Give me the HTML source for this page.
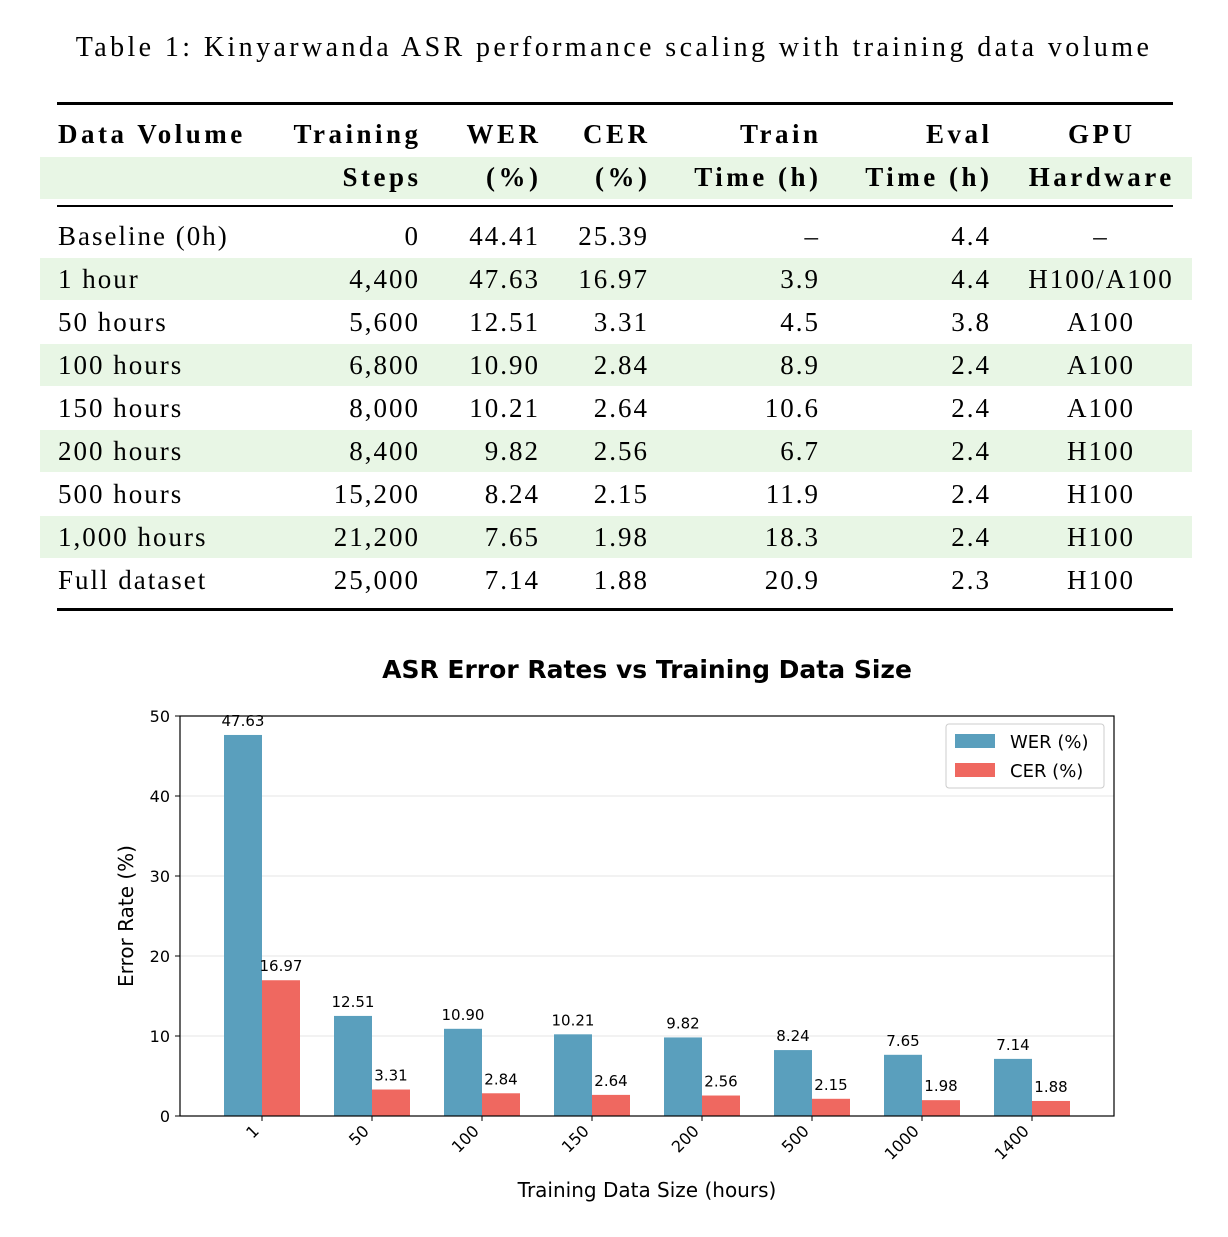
<!DOCTYPE html>
<html><head><meta charset="utf-8"><style>
body{margin:0;background:#fff;width:1228px;height:1237px;position:relative;overflow:hidden}
.t{position:absolute;font-family:"Liberation Serif",serif;font-size:27px;color:#000;white-space:nowrap;line-height:1;letter-spacing:2px}
.b{font-weight:bold;letter-spacing:3.5px}
.band{position:absolute;left:40px;width:1152px;height:42px;background:#e8f6e5}
.rule{position:absolute;left:57px;width:1116px;background:#000}
</style></head><body>
<div class="t" style="left:0;width:1228px;text-align:center;top:34px;font-size:28px;letter-spacing:3.4px">Table 1: Kinyarwanda ASR performance scaling with training data volume</div>
<div id="tbl"></div>
<svg id="chart" width="1228" height="1237" style="position:absolute;left:0;top:0" font-family="DejaVu Sans, sans-serif"></svg>
<script>
const tbl=document.getElementById('tbl');
function add(html){tbl.insertAdjacentHTML('beforeend',html);}
add('<div class="rule" style="top:102px;height:3px"></div>');
add('<div class="band" style="top:157px"></div>');
add('<div class="rule" style="top:205px;height:2px"></div>');
add('<div class="rule" style="top:608px;height:3px"></div>');
const rows=[["Baseline (0h)","0","44.41","25.39","–","4.4","–"],["1 hour","4,400","47.63","16.97","3.9","4.4","H100/A100"],["50 hours","5,600","12.51","3.31","4.5","3.8","A100"],["100 hours","6,800","10.90","2.84","8.9","2.4","A100"],["150 hours","8,000","10.21","2.64","10.6","2.4","A100"],["200 hours","8,400","9.82","2.56","6.7","2.4","H100"],["500 hours","15,200","8.24","2.15","11.9","2.4","H100"],["1,000 hours","21,200","7.65","1.98","18.3","2.4","H100"],["Full dataset","25,000","7.14","1.88","20.9","2.3","H100"]];
const rights=[null,418,538,647,818,989,null];
function cell(txt,col,y,bold){
 let cls='t'+(bold?' b':'');
 const ls=bold?3.5:2;
 let st;
 if(col===0) st='left:58px';
 else if(col===6) st='left:1000px;width:200px;text-align:center;text-indent:'+ls+'px';
 else st='right:'+(1228-rights[col]-ls)+'px';
 add('<div class="'+cls+'" style="'+st+';top:'+(y-13)+'px">'+txt+'</div>');
}
const h1=["Data Volume","Training","WER","CER","Train","Eval","GPU"],h2=["","Steps","(%)","(%)","Time (h)","Time (h)","Hardware"];
h1.forEach((t,i)=>cell(t,i,134,true));h2.forEach((t,i)=>t&&cell(t,i,177,true));
rows.forEach((r,i)=>{const y=236+i*43;if(i%2==1)add('<div class="band" style="top:'+(y-21)+'px"></div>');});
rows.forEach((r,i)=>{const y=236+i*43;r.forEach((t,c)=>cell(t,c,y,false));});

// chart
const categories=["1","50","100","150","200","500","1000","1400"];
const werValues=[47.63,12.51,10.90,10.21,9.82,8.24,7.65,7.14];
const cerValues=[16.97,3.31,2.84,2.64,2.56,2.15,1.98,1.88];
const yTicks=[0,10,20,30,40,50];
const svg=document.getElementById('chart');const NS='http://www.w3.org/2000/svg';
function el(tag,a,txt){const e=document.createElementNS(NS,tag);for(const k in a)e.setAttribute(k,a[k]);if(txt!==undefined)e.textContent=txt;svg.appendChild(e);return e;}
const X0=180,X1=1114,Y0=1116,Y1=716;
const y=v=>Y0-(v/50)*(Y0-Y1);
const xc=i=>262+i*110;
const bw=38;
yTicks.forEach(t=>{
 if(t>0&&t<50){const g=el('line',{x1:X0,x2:X1,y1:y(t),y2:y(t),stroke:'#e6e6e6','stroke-width':1});}
 const tk=el('line',{x1:X0-5,x2:X0,y1:y(t),y2:y(t),stroke:'#000'});
 const l=el('text',{x:X0-10,y:y(t)+6,'text-anchor':'end','font-size':16},String(t));
});
categories.forEach((c,i)=>{
 const w=el('rect',{x:xc(i)-bw,y:y(werValues[i]),width:bw,height:Y0-y(werValues[i]),fill:'#5a9fbd'});
 
 const r=el('rect',{x:xc(i),y:y(cerValues[i]),width:bw,height:Y0-y(cerValues[i]),fill:'#ef6860'});
 
 const wl=el('text',{x:xc(i)-bw/2,y:y(werValues[i])-9,'text-anchor':'middle','font-size':15},werValues[i].toFixed(2));
 
 const cl=el('text',{x:xc(i)+bw/2,y:y(cerValues[i])-9,'text-anchor':'middle','font-size':15},cerValues[i].toFixed(2));
 
 const tk=el('line',{x1:xc(i),x2:xc(i),y1:Y0,y2:Y0+5,stroke:'#000'});
 const xl=el('text',{x:xc(i)-2,y:Y0+16,'text-anchor':'end','font-size':16,transform:'rotate(-45 '+(xc(i)-2)+' '+(Y0+16)+')'},c);
 
});
const fr=el('rect',{x:X0,y:Y1,width:X1-X0,height:Y0-Y1,fill:'none',stroke:'#000','stroke-width':1.2});

const tt=el('text',{x:647,y:678,'text-anchor':'middle','font-size':25,'font-weight':'bold'},'ASR Error Rates vs Training Data Size');

const xt=el('text',{x:647,y:1197,'text-anchor':'middle','font-size':20},'Training Data Size (hours)');

const yt=el('text',{x:133,y:916,'text-anchor':'middle','font-size':20,transform:'rotate(-90 133 916)'},'Error Rate (%)');

const lg=el('rect',{x:946,y:724,width:158,height:64,fill:'#fff',stroke:'#ccc',rx:3});

const l1=el('rect',{x:955,y:734,width:40,height:14,fill:'#5a9fbd'});
const l1t=el('text',{x:1010,y:748,'font-size':18},'WER (%)');
const l2=el('rect',{x:955,y:763,width:40,height:14,fill:'#ef6860'});
const l2t=el('text',{x:1010,y:777,'font-size':18},'CER (%)');
</script>
</body></html>
